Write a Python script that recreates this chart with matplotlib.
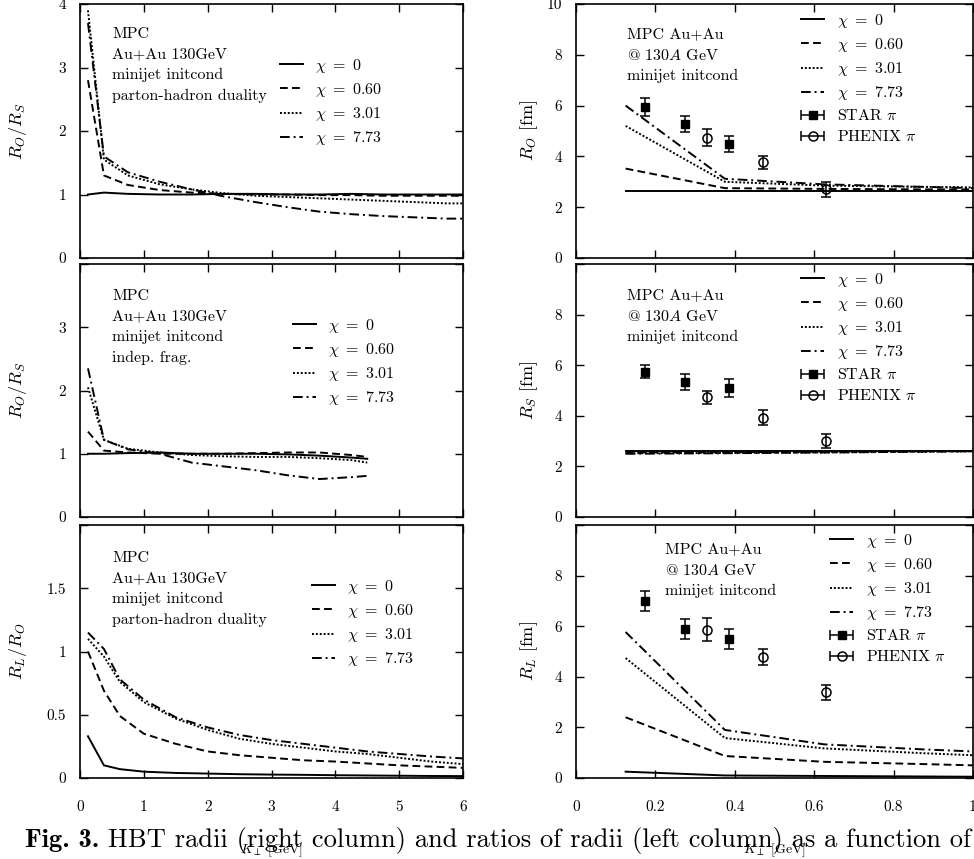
import matplotlib.pyplot as plt
import numpy as np
from matplotlib.legend_handler import HandlerErrorbar

plt.rcParams['font.family'] = ['cmr10', 'DejaVu Serif']
plt.rcParams['mathtext.fontset'] = 'cm'
plt.rcParams['axes.formatter.use_mathtext'] = True
plt.rcParams['axes.linewidth'] = 1.2
plt.rcParams['xtick.direction'] = 'in'
plt.rcParams['ytick.direction'] = 'in'
plt.rcParams['xtick.top'] = True
plt.rcParams['ytick.right'] = True
plt.rcParams['xtick.major.size'] = 6
plt.rcParams['ytick.major.size'] = 6
plt.rcParams['xtick.major.width'] = 1.0
plt.rcParams['ytick.major.width'] = 1.0

# ---------------- data ----------------
chi_labels = [r'$\chi\ =\ 0$', r'$\chi\ =\ 0.60$', r'$\chi\ =\ 3.01$', r'$\chi\ =\ 7.73$']

# left top: R_O/R_S, parton-hadron duality
kt_a = [0.125, 0.375, 0.75, 1.25, 1.75, 2.25, 2.75, 3.25, 3.75, 4.25, 4.75, 5.25, 5.75, 6.0]
ros_a = [
    [1.0, 1.03, 1.01, 1.0, 1.0, 1.01, 1.01, 1.0, 1.0, 1.01, 1.0, 1.0, 1.0, 1.0],
    [2.8, 1.3, 1.15, 1.07, 1.03, 1.01, 1.0, 1.0, 0.99, 0.99, 0.98, 0.98, 0.98, 0.98],
    [3.9, 1.55, 1.3, 1.16, 1.08, 1.02, 0.98, 0.96, 0.94, 0.92, 0.9, 0.88, 0.86, 0.86],
    [3.7, 1.6, 1.35, 1.2, 1.08, 0.97, 0.88, 0.8, 0.73, 0.69, 0.66, 0.64, 0.62, 0.62],
]

# left middle: R_O/R_S, independent fragmentation
kt_b = [0.125, 0.375, 0.75, 1.25, 1.75, 2.25, 2.75, 3.25, 3.75, 4.25, 4.5]
ros_b = [
    [1.0, 1.0, 1.01, 1.02, 1.0, 1.0, 1.0, 0.99, 0.97, 0.94, 0.92],
    [1.35, 1.05, 1.02, 1.0, 1.0, 1.0, 1.01, 1.02, 1.02, 0.98, 0.95],
    [2.05, 1.22, 1.08, 1.02, 0.98, 0.96, 0.95, 0.95, 0.93, 0.9, 0.86],
    [2.35, 1.22, 1.07, 1.0, 0.86, 0.8, 0.74, 0.66, 0.6, 0.63, 0.65],
]

# left bottom: R_L/R_O
kt_c = [0.125, 0.375, 0.625, 1.0, 1.5, 2.0, 2.5, 3.0, 3.5, 4.0, 4.5, 5.0, 5.5, 6.0]
rlo_c = [
    [0.33, 0.1, 0.07, 0.05, 0.04, 0.035, 0.03, 0.027, 0.025, 0.022, 0.02, 0.018, 0.016, 0.015],
    [1.0, 0.69, 0.49, 0.35, 0.27, 0.21, 0.18, 0.16, 0.14, 0.13, 0.115, 0.1, 0.09, 0.08],
    [1.1, 0.96, 0.76, 0.6, 0.47, 0.38, 0.31, 0.27, 0.24, 0.21, 0.19, 0.16, 0.13, 0.11],
    [1.15, 1.02, 0.78, 0.62, 0.48, 0.4, 0.34, 0.3, 0.27, 0.24, 0.21, 0.19, 0.17, 0.155],
]

# right column: radii in fm
kt_r = [0.125, 0.375, 0.625, 0.875, 1.0]
ro_r = [
    [2.62, 2.62, 2.62, 2.62, 2.62],
    [3.52, 2.75, 2.72, 2.7, 2.7],
    [5.2, 3.0, 2.85, 2.8, 2.78],
    [6.0, 3.12, 2.9, 2.8, 2.75],
]
rs_r = [
    [2.6, 2.6, 2.6, 2.6, 2.6],
    [2.55, 2.56, 2.58, 2.6, 2.6],
    [2.52, 2.53, 2.55, 2.58, 2.6],
    [2.5, 2.52, 2.55, 2.58, 2.6],
]
rl_r = [
    [0.25, 0.1, 0.08, 0.06, 0.05],
    [2.4, 0.87, 0.64, 0.55, 0.5],
    [4.74, 1.58, 1.17, 0.98, 0.9],
    [5.77, 1.9, 1.33, 1.13, 1.05],
]

# experimental data
star_kt = [0.175, 0.275, 0.385]
star_ro = [5.93, 5.28, 4.48]
star_ro_err = [0.35, 0.32, 0.32]
star_rs = [5.74, 5.34, 5.1]
star_rs_err = [0.26, 0.33, 0.37]
star_rl = [7.0, 5.89, 5.49]
star_rl_err = [0.4, 0.4, 0.41]

phenix_kt = [0.33, 0.47, 0.63]
phenix_ro = [4.74, 3.77, 2.7]
phenix_ro_err = [0.34, 0.25, 0.3]
phenix_rs = [4.73, 3.92, 3.0]
phenix_rs_err = [0.25, 0.3, 0.27]
phenix_rl = [5.86, 4.78, 3.38]
phenix_rl_err = [0.45, 0.3, 0.28]

caption_bold = 'Fig. 3.'
caption_rest = 'HBT radii (right column) and ratios of radii (left column) as a function of'

# ---------------- styling ----------------
W, H = 974, 859
styles = ['-', (0, (4, 2.2)), (0, (1, 1)), (0, (5, 2, 1, 2))]
LW = 1.4
FS = 11.5
TICK_FS = 11
CAP_FS = 19.1

fig = plt.figure(figsize=(W / 100, H / 100), dpi=100)


def px_axes(x0, x1, y0, y1):
    return fig.add_axes([x0 / W, 1 - y1 / H, (x1 - x0) / W, (y1 - y0) / H])


def fx(px):
    return px / W


def fy(py):
    return 1 - py / H


rows = [(4, 258), (264, 517), (525, 778)]
left = [px_axes(80, 463, *r) for r in rows]
right = [px_axes(576, 973, *r) for r in rows]

left_x = [kt_a, kt_b, kt_c]
left_y = [ros_a, ros_b, rlo_c]
left_ylim = [4, 4, 2]
left_yticks = [[0, 1, 2, 3, 4], [0, 1, 2, 3, 4], [0, 0.5, 1, 1.5, 2]]
left_yticklabels = [['0', '1', '2', '3', '4'], ['0', '1', '2', '3', ''], ['0', '0.5', '1', '1.5', '']]
left_ylabels = [r'$R_O/R_S$', r'$R_O/R_S$', r'$R_L/R_O$']
left_text = ['MPC\nAu+Au 130GeV\nminijet initcond\nparton-hadron duality',
             'MPC\nAu+Au 130GeV\nminijet initcond\nindep. frag.',
             'MPC\nAu+Au 130GeV\nminijet initcond\nparton-hadron duality']
left_text_pos = [(112, 27), (112, 289), (112, 551)]
left_leg_pos = [(280, 57), (293, 317), (312, 578)]

for i, ax in enumerate(left):
    handles = []
    for j in range(4):
        h, = ax.plot(left_x[i], left_y[i][j], color='black', lw=LW, ls=styles[j])
        handles.append(h)
    ax.set_xlim(0, 6)
    ax.set_ylim(0, left_ylim[i])
    ax.set_xticks(range(7))
    ax.set_yticks(left_yticks[i])
    ax.set_yticklabels(left_yticklabels[i], fontsize=TICK_FS)
    ax.set_ylabel(left_ylabels[i], fontsize=13)
    ax.yaxis.set_label_coords(-0.133, 0.5)
    ax.tick_params(axis='y', pad=10)
    ax.text(fx(left_text_pos[i][0]), fy(left_text_pos[i][1]), left_text[i],
            transform=fig.transFigure, fontsize=FS, va='top', ha='left', linespacing=1.61)
    ax.legend(handles, chi_labels, loc='upper left', frameon=False, fontsize=FS,
              bbox_to_anchor=(fx(left_leg_pos[i][0]), fy(left_leg_pos[i][1])),
              bbox_transform=fig.transFigure, borderpad=0, borderaxespad=0,
              handlelength=1.45, handletextpad=0.75, labelspacing=0.38)
    if i < 2:
        ax.tick_params(axis='x', labelbottom=False)
    else:
        ax.set_xticklabels([str(v) for v in range(7)], fontsize=TICK_FS)
        ax.tick_params(axis='x', pad=16)
        ax.set_xlabel(r'$K_\perp$ [GeV]', fontsize=10)
        ax.xaxis.set_label_coords(0.5, -0.25)

right_y = [ro_r, rs_r, rl_r]
star_y = [star_ro, star_rs, star_rl]
star_e = [star_ro_err, star_rs_err, star_rl_err]
phenix_y = [phenix_ro, phenix_rs, phenix_rl]
phenix_e = [phenix_ro_err, phenix_rs_err, phenix_rl_err]
right_ylabels = [r'$R_O$ [fm]', r'$R_S$ [fm]', r'$R_L$ [fm]']
right_yticklabels = [['0', '2', '4', '6', '8', '10'], ['0', '2', '4', '6', '8', ''], ['0', '2', '4', '6', '8', '']]
right_text = ['MPC Au+Au\n@ 130$A$ GeV\nminijet initcond'] * 3
right_text_pos = [(627, 27), (627, 288), (665, 542)]
right_leg_pos = [(801, 12), (801, 271), (830, 532)]
exp_labels = [r'STAR $\pi$', r'PHENIX $\pi$']

for i, ax in enumerate(right):
    handles = []
    for j in range(4):
        h, = ax.plot(kt_r, right_y[i][j], color='black', lw=LW, ls=styles[j])
        handles.append(h)
    ax.errorbar(star_kt, star_y[i], yerr=star_e[i], fmt='s', color='black', ms=6,
                capsize=3.5, elinewidth=1.1, capthick=1.1)
    ax.errorbar(phenix_kt, phenix_y[i], yerr=phenix_e[i], fmt='o', color='black', mfc='none',
                ms=6.5, mew=1.1, capsize=3.5, elinewidth=1.1, capthick=1.1)
    # legend proxies (gnuplot-style horizontal bars)
    sp = ax.errorbar([np.nan], [np.nan], xerr=[0.1], fmt='s', color='black', ms=6,
                     capsize=3.5, elinewidth=1.1, capthick=1.1)
    pp = ax.errorbar([np.nan], [np.nan], xerr=[0.1], fmt='o', color='black', mfc='none',
                     ms=6.5, mew=1.1, capsize=3.5, elinewidth=1.1, capthick=1.1)
    handles += [sp, pp]
    ax.set_xlim(0, 1)
    ax.set_ylim(0, 10)
    ax.set_xticks([0, 0.2, 0.4, 0.6, 0.8, 1.0])
    ax.set_yticks([0, 2, 4, 6, 8, 10])
    ax.set_yticklabels(right_yticklabels[i], fontsize=TICK_FS)
    ax.set_ylabel(right_ylabels[i], fontsize=13)
    ax.yaxis.set_label_coords(-0.091, 0.5)
    ax.tick_params(axis='y', pad=10)
    ax.text(fx(right_text_pos[i][0]), fy(right_text_pos[i][1]), right_text[i],
            transform=fig.transFigure, fontsize=FS, va='top', ha='left', linespacing=1.58)
    ax.legend(handles, chi_labels + exp_labels, loc='upper left', frameon=False, fontsize=FS,
              bbox_to_anchor=(fx(right_leg_pos[i][0]), fy(right_leg_pos[i][1])),
              bbox_transform=fig.transFigure, borderpad=0, borderaxespad=0,
              handlelength=1.45, handletextpad=0.8, labelspacing=0.38, numpoints=1,
              handler_map={sp: HandlerErrorbar(xerr_size=0.72), pp: HandlerErrorbar(xerr_size=0.72)})
    if i < 2:
        ax.tick_params(axis='x', labelbottom=False)
    else:
        ax.set_xticklabels(['0', '0.2', '0.4', '0.6', '0.8', '1'], fontsize=TICK_FS)
        ax.tick_params(axis='x', pad=16)
        ax.set_xlabel(r'$K_\perp$ [GeV]', fontsize=10)
        ax.xaxis.set_label_coords(0.5, -0.25)

# caption: bold "Fig. 3." followed by the roman text
cap1 = fig.text(fx(25), fy(847), caption_bold, family='cmb10', fontsize=CAP_FS,
                va='baseline', ha='left', zorder=0)
fig.canvas.draw()
bb = cap1.get_window_extent()
fig.text(bb.x1 / W + fx(9), fy(847), caption_rest, fontsize=CAP_FS,
         va='baseline', ha='left', zorder=0)

fig.savefig('out.png', dpi=100)
